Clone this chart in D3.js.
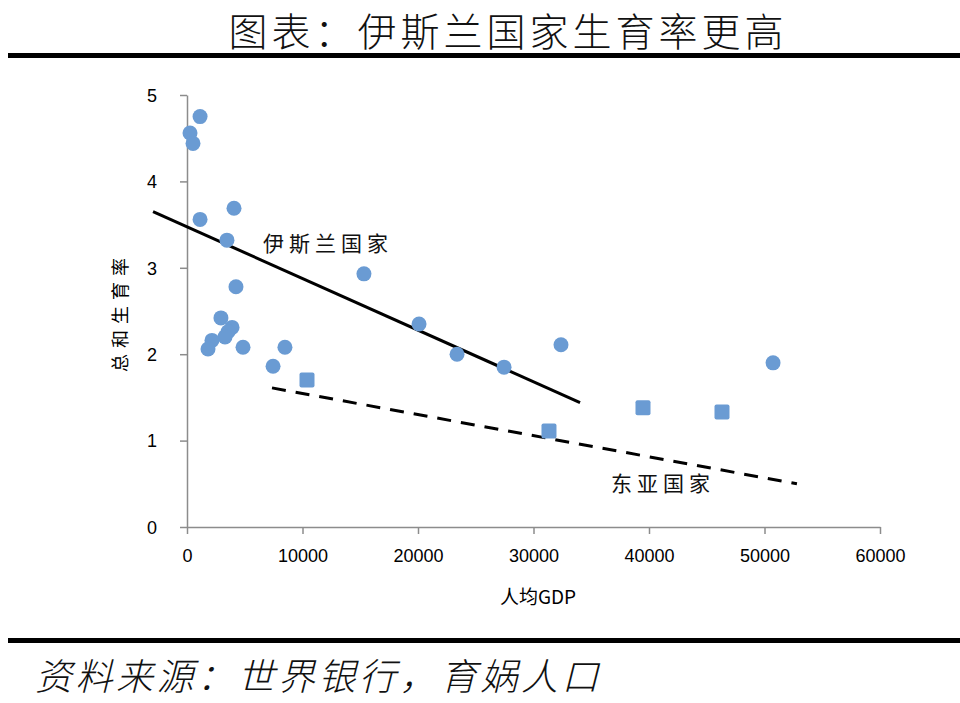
<!DOCTYPE html>
<html><head><meta charset="utf-8">
<script src="https://cdn.jsdelivr.net/npm/d3@7"></script>
<style>body{margin:0;background:#fff}svg{display:block}</style>
</head><body>
<svg id="c" width="960" height="703"></svg>
<script>
const titleText = "图表：伊斯兰国家生育率更高";
const sourceText = "资料来源：世界银行，育娲人口";
const xLabel = "人均GDP";
const yLabel = "总和生育率";
const xTicks = [0,10000,20000,30000,40000,50000,60000];
const yTicks = [0,1,2,3,4,5];
// Islamic countries: GDP per capita, TFR
const islamGdp = [260,520,1130,1130,4070,3460,4240,15320,2940,3900,3550,3290,2160,1820,4850,8480,7450,20090,23380,27450,32380,50740];
const islamTfr = [4.56,4.44,4.75,3.56,3.69,3.32,2.78,2.93,2.42,2.31,2.26,2.20,2.16,2.06,2.08,2.08,1.86,2.35,2.00,1.85,2.11,1.90];
// East Asian countries
const eastGdp = [10390,31340,39480,46320];
const eastTfr = [1.70,1.11,1.38,1.33];
// trend lines (endpoints)
const islamTrendX = [-2940,34030];
const islamTrendY = [3.65,1.44];
const eastTrendX = [7360,52810];
const eastTrendY = [1.61,0.50];
const islamLabel = "伊斯兰国家";
const eastLabel = "东亚国家";

const svg = d3.select("#c");
const x = d3.scaleLinear().domain([0,60000]).range([187,880]);
const y = d3.scaleLinear().domain([0,5]).range([527,95]);
const axisColor = "#8c8c8c";
const ptColor = "#6a9bd3";
const cjk = "'Noto Sans CJK SC','Noto Sans CJK JP',sans-serif";

// title
svg.append("text").attr("x",508).attr("y",46).attr("text-anchor","middle")
  .attr("font-family",cjk).attr("font-size",39).attr("font-weight",300).attr("letter-spacing",4).attr("fill","#111")
  .text(titleText);
svg.append("rect").attr("x",8).attr("y",53).attr("width",952).attr("height",5).attr("fill","#000");
svg.append("rect").attr("x",8).attr("y",638).attr("width",952).attr("height",5).attr("fill","#000");
svg.append("text").attr("x",35).attr("y",690)
  .attr("font-family",cjk).attr("font-size",37).attr("font-weight",300).attr("font-style","italic")
  .attr("letter-spacing",3.5)
  .attr("fill","#111").text(sourceText);

// axes
const xa = svg.append("g").attr("transform","translate(0,527)")
  .call(d3.axisBottom(x).tickValues(xTicks).tickFormat(d3.format("d")).tickSize(7).tickSizeOuter(0));
const ya = svg.append("g").attr("transform","translate(187,0)")
  .call(d3.axisLeft(y).tickValues(yTicks).tickFormat(d3.format("d")).tickSize(7).tickSizeOuter(0));
[xa,ya].forEach(a=>{
  a.select(".domain").attr("stroke",axisColor).attr("stroke-width",1.5);
  a.selectAll(".tick line").attr("stroke",axisColor).attr("stroke-width",1.5);
});
xa.selectAll(".tick text").attr("font-family","'Liberation Sans Narrow','Liberation Sans',sans-serif")
  .attr("font-size",18).attr("fill","#000").attr("dy","1.4em");
ya.selectAll(".tick text").attr("font-family","'Liberation Sans',Arial,sans-serif")
  .attr("font-size",18).attr("fill","#000").attr("x",-30).attr("dy","0.35em");

svg.append("text").attr("x",538).attr("y",604).attr("text-anchor","middle")
  .attr("font-family",cjk).attr("font-size",19).attr("fill","#000")
  .text(xLabel);
svg.append("text").attr("transform","translate(127,312) rotate(-90)").attr("text-anchor","middle")
  .attr("font-family",cjk).attr("font-size",18).attr("letter-spacing",6).attr("fill","#000")
  .text(yLabel);

// trend lines
const line = d3.line().x(d=>x(d[0])).y(d=>y(d[1]));
svg.append("path").datum(d3.zip(islamTrendX,islamTrendY)).attr("d",line)
  .attr("stroke","#000").attr("stroke-width",3).attr("fill","none");
svg.append("path").datum(d3.zip(eastTrendX,eastTrendY)).attr("d",line)
  .attr("stroke","#000").attr("stroke-width",3).attr("stroke-dasharray","14,10").attr("fill","none");

// points
svg.append("g").selectAll("circle").data(d3.zip(islamGdp,islamTfr)).join("circle")
  .attr("cx",d=>x(d[0])).attr("cy",d=>y(d[1])).attr("r",7.5).attr("fill",ptColor);
svg.append("g").selectAll("rect").data(d3.zip(eastGdp,eastTfr)).join("rect")
  .attr("x",d=>x(d[0])-7.5).attr("y",d=>y(d[1])-7.5).attr("width",15).attr("height",15)
  .attr("rx",2).attr("fill",ptColor);

// labels
svg.append("text").attr("x",263).attr("y",251).attr("font-family",cjk).attr("font-size",21)
  .attr("letter-spacing",5).attr("fill","#111").text(islamLabel);
svg.append("text").attr("x",611).attr("y",491).attr("font-family",cjk).attr("font-size",21)
  .attr("letter-spacing",5).attr("fill","#111").text(eastLabel);
</script>
</body></html>
